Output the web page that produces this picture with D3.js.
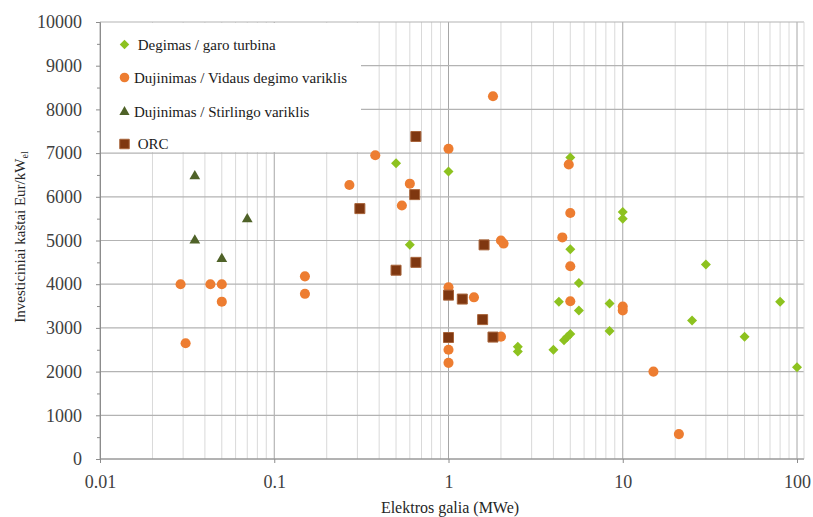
<!DOCTYPE html>
<html>
<head>
<meta charset="utf-8">
<script src="https://cdn.jsdelivr.net/npm/d3@7"></script>
<style>
  html, body { margin: 0; padding: 0; background: #fff; }
  svg { display: block; }
</style>
</head>
<body>
<svg id="chart" width="813" height="517"></svg>
<script>
// Electric power (MWe) and investment cost (Eur/kWel) per technology
const steamTurbine = [
  [0.5, 6770], [0.6, 4900], [1, 6580], [5, 6900], [5, 4800], [10, 5650], [10, 5500],
  [5.6, 4030], [30, 4450], [4.3, 3600], [5.6, 3400], [8.4, 3560], [8.4, 2930],
  [25, 3170], [80, 3600], [50, 2800], [100, 2100], [2.5, 2570], [2.5, 2460],
  [4, 2500], [4.6, 2720], [4.8, 2790], [5, 2860]
];
const gasEngine = [
  [0.029, 4000], [0.031, 2650], [0.043, 4000], [0.05, 4000], [0.05, 3600],
  [0.15, 4180], [0.15, 3780], [0.27, 6270], [0.38, 6950], [0.54, 5800], [0.6, 6300],
  [1, 7100], [1.8, 8300], [4.9, 6740], [5, 5630], [4.5, 5070], [2, 5000], [2.07, 4930],
  [5, 4410], [5, 3610], [1, 3930], [1.4, 3700], [1, 2500], [1, 2200], [2, 2800],
  [10, 3490], [10, 3400], [15, 2000], [21, 570]
];
const stirling = [
  [0.035, 6470], [0.07, 5490], [0.035, 5000], [0.05, 4580]
];
const orc = [
  [0.65, 7380], [0.31, 5730], [0.64, 6050], [0.5, 4320], [0.65, 4500], [1.6, 4900],
  [1, 3750], [1.2, 3660], [1.57, 3190], [1, 2780], [1.8, 2790]
];

const seriesNames = [
  " Degimas / garo turbina",
  "Dujinimas / Vidaus degimo variklis",
  "Dujinimas / Stirlingo variklis",
  " ORC"
];
const xTicks = [0.01, 0.1, 1, 10, 100];
const xTickLabels = ["0.01", "0.1", "1", "10", "100"];
const yTicks = [0, 1000, 2000, 3000, 4000, 5000, 6000, 7000, 8000, 9000, 10000];
const xTitle = "Elektros galia (MWe)";
const yTitle = "Investiciniai kaštai Eur/kW";
const yTitleSub = "el";

const FONT = '"Liberation Serif"';
const svg = d3.select("#chart");
const plotLeft = 100, plotEnd = 797, plotTop = 22, plotBottom = 459, plotRight = 804;

const x = d3.scaleLog().domain([0.01, 100]).range([plotLeft, plotEnd]);
const y = d3.scaleLinear().domain([0, 10000]).range([plotBottom, plotTop]);

// minor vertical grid (2..9 within each decade)
const minor = [];
for (let e = -2; e < 2; e++) {
  for (let k = 2; k <= 9; k++) minor.push(k * Math.pow(10, e));
}
svg.append("g").selectAll("line").data(minor).join("line")
  .attr("x1", d => x(d)).attr("x2", d => x(d))
  .attr("y1", plotTop).attr("y2", plotBottom)
  .attr("stroke", "#d9d9d9").attr("stroke-width", 1);

// major vertical grid
svg.append("g").selectAll("line").data(xTicks).join("line")
  .attr("x1", d => x(d)).attr("x2", d => x(d))
  .attr("y1", plotTop).attr("y2", plotBottom)
  .attr("stroke", "#a6a6a6").attr("stroke-width", 1);

// horizontal grid
svg.append("g").selectAll("line").data(yTicks).join("line")
  .attr("x1", plotLeft).attr("x2", plotRight)
  .attr("y1", d => y(d)).attr("y2", d => y(d))
  .attr("stroke", "#b3b3b3").attr("stroke-width", 1.2);

// right edge of plot area
svg.append("line").attr("x1", plotRight).attr("x2", plotRight)
  .attr("y1", plotTop).attr("y2", plotBottom).attr("stroke", "#d9d9d9");

// y axis with major and minor ticks
const yAxis = d3.axisLeft(y).tickValues(yTicks).tickSize(4).tickPadding(14)
  .tickFormat(d3.format("d"));
const gy = svg.append("g").attr("transform", `translate(${plotLeft},0)`).call(yAxis);
gy.attr("font-family", null).attr("font-size", null);
gy.select(".domain").attr("stroke", "#8c8c8c");
gy.selectAll(".tick line").attr("stroke", "#8c8c8c");
gy.selectAll(".tick text").style("font-family", FONT)
  .style("font-size", "18px").attr("fill", "#404040");
svg.append("g").attr("transform", `translate(${plotLeft},0)`)
  .call(d3.axisLeft(y).tickValues(d3.range(500, 10000, 1000)).tickSize(3).tickFormat(""))
  .call(g => g.select(".domain").remove())
  .selectAll("line").attr("stroke", "#8c8c8c");

// x axis
const xAxis = d3.axisBottom(x).tickValues(xTicks).tickSize(4).tickPadding(12)
  .tickFormat((d, i) => xTickLabels[i]);
const gx = svg.append("g").attr("transform", `translate(0,${plotBottom})`).call(xAxis);
gx.attr("font-family", null).attr("font-size", null);
gx.select(".domain").attr("d", `M${plotLeft},0H${plotRight}`).attr("stroke", "#8c8c8c");
gx.selectAll(".tick line").attr("stroke", "#8c8c8c");
gx.selectAll(".tick text").style("font-family", FONT)
  .style("font-size", "18px").attr("fill", "#404040");

// axis titles
svg.append("text").attr("x", 450).attr("y", 513).attr("text-anchor", "middle")
  .style("font-family", FONT).style("font-size", "16px").attr("fill", "#262626").text(xTitle);
const yt = svg.append("text")
  .attr("transform", "translate(25,237) rotate(-90)")
  .attr("text-anchor", "middle")
  .style("font-family", FONT).style("font-size", "15px").attr("fill", "#262626");
yt.append("tspan").text(yTitle);
yt.append("tspan").style("font-size", "10px").attr("dy", 3).text(yTitleSub);

// marker styles
const styles = [
  { data: steamTurbine, fill: "#8dc21f", stroke: "none", sym: d3.symbolSquare, size: 50, rot: 45 },
  { data: gasEngine, fill: "#ed7d31", stroke: "none", sym: d3.symbolCircle, size: 80, rot: 0 },
  { data: stirling, fill: "#4f6228", stroke: "none", sym: d3.symbolTriangle, size: 50, rot: 0 },
  { data: orc, fill: "#7f3710", stroke: "#a8643a", sym: d3.symbolSquare, size: 100, rot: 0 }
];

// legend box
svg.append("rect").attr("x", 101).attr("y", 23).attr("width", 260).attr("height", 129)
  .attr("fill", "#fff");

// data points
styles.forEach(s => {
  svg.append("g").selectAll("path").data(s.data).join("path")
    .attr("d", d3.symbol().type(s.sym).size(s.size))
    .attr("transform", d => `translate(${x(d[0])},${y(d[1])}) rotate(${s.rot})`)
    .attr("fill", s.fill).attr("stroke", s.stroke).attr("stroke-width", 1);
});

// legend entries
const legendRows = [44.5, 77.5, 112, 144];
styles.forEach((s, i) => {
  svg.append("path")
    .attr("d", d3.symbol().type(s.sym).size(s.size * 0.9))
    .attr("transform", `translate(124.5,${legendRows[i]}) rotate(${s.rot})`)
    .attr("fill", s.fill).attr("stroke", s.stroke);
  svg.append("text").attr("x", 134).attr("y", legendRows[i]).attr("dy", "0.35em")
    .style("font-family", FONT).style("font-size", "15px").attr("fill", "#1a1a1a")
    .style("white-space", "pre").text(seriesNames[i]);
});
</script>
</body>
</html>
